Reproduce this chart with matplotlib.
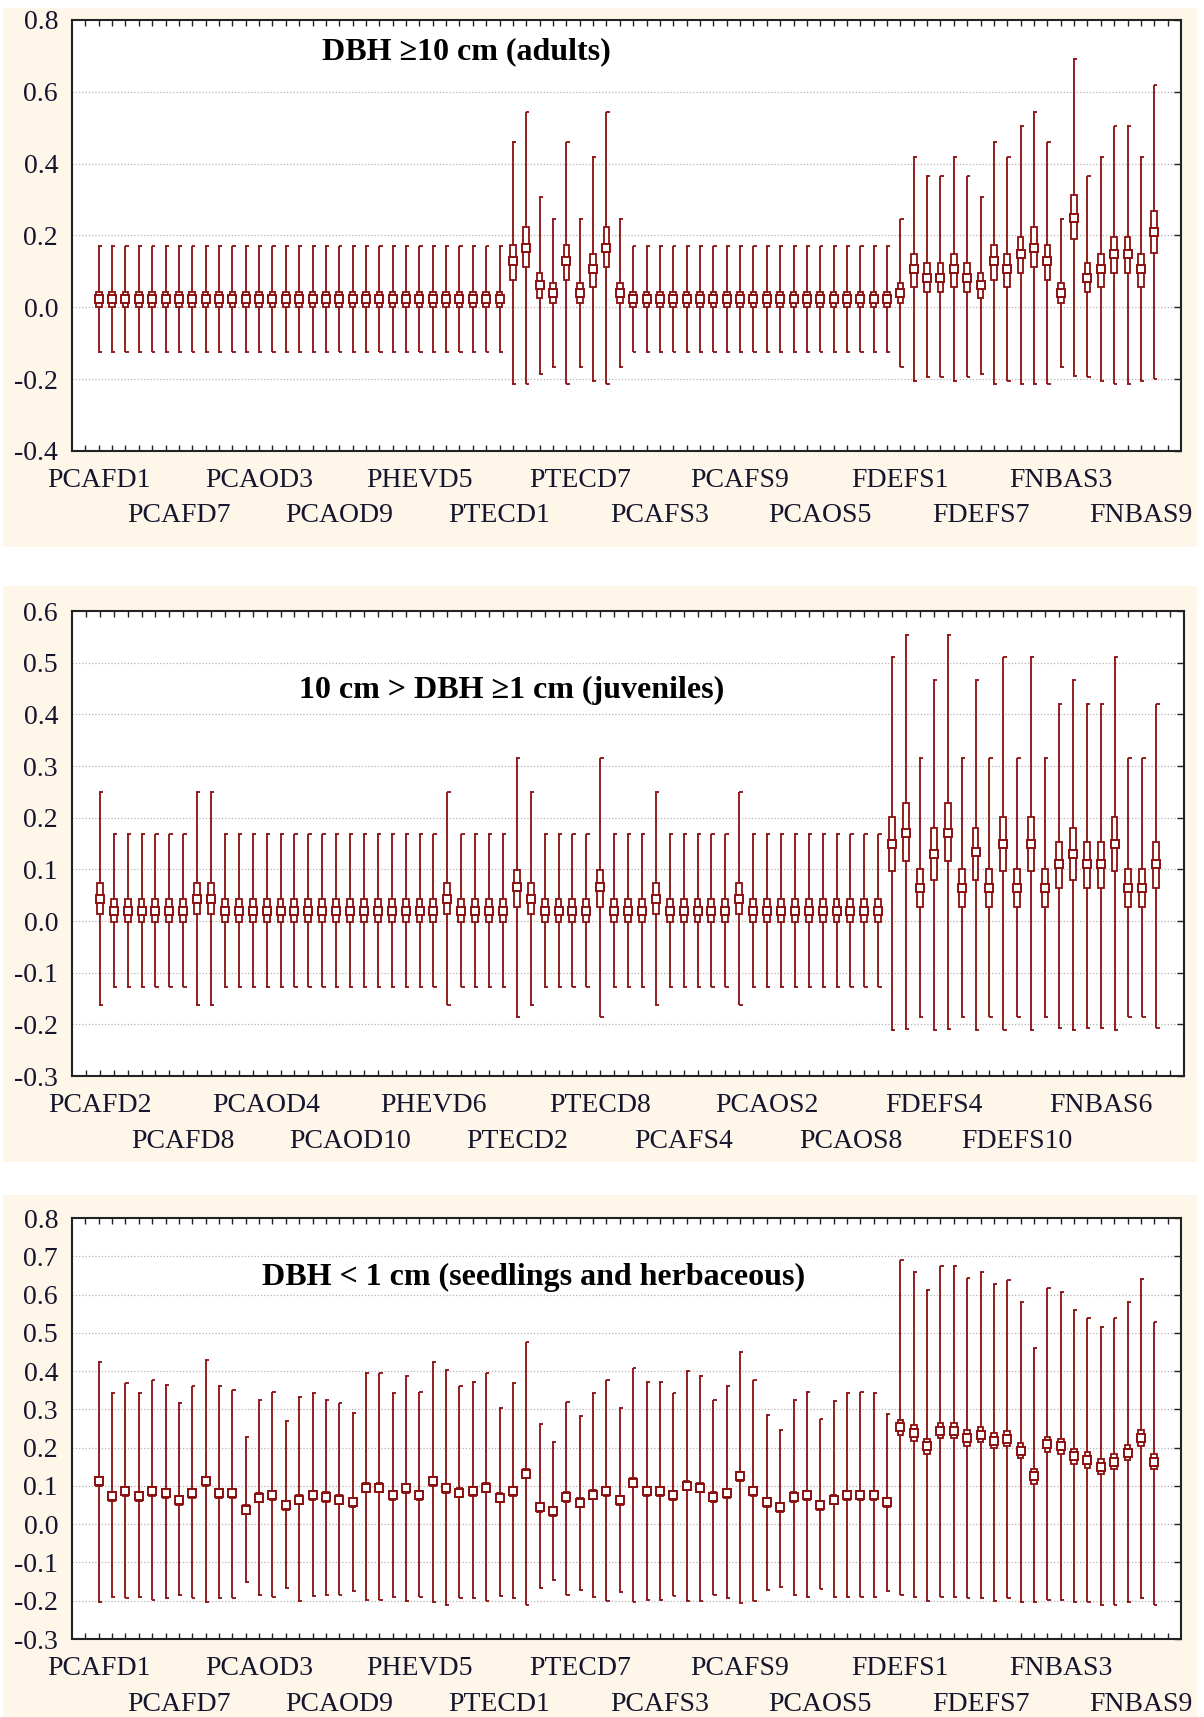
import numpy as np
import matplotlib
matplotlib.use("Agg")
import matplotlib.pyplot as plt
from matplotlib.patches import Rectangle

plt.rcParams['font.family'] = ['Liberation Serif', 'DejaVu Serif']

RED = '#8b0f0f'
TXT = '#15152e'
CREAM = '#fdf6e9'

# site names
groups = ['PCAFD', 'PCAOD', 'PHEVD', 'PTECD', 'PCAFS', 'PCAOS', 'FDEFS', 'FNBAS']
sites_all = [g + str(k) for g in groups for k in range(1, 11)]
sites_juv = [s for s in sites_all if s not in ('PCAFD1', 'PCAFS9', 'PCAFS10')]

# ---- DBH >= 10 cm (adults) ----
adult_med = ([0.022] * 31 + [0.128, 0.166, 0.062, 0.040, 0.128, 0.040, 0.106, 0.166, 0.040]
             + [0.022] * 20
             + [0.040, 0.106, 0.083, 0.083, 0.106, 0.083, 0.062, 0.128, 0.106, 0.148,
                0.166, 0.128, 0.040, 0.248, 0.083, 0.106, 0.148, 0.148, 0.106, 0.210])
adult_q1 = ([0.0] * 31 + [0.076, 0.113, 0.026, 0.012, 0.076, 0.012, 0.058, 0.113, 0.012]
            + [0.0] * 20
            + [0.012, 0.058, 0.042, 0.042, 0.058, 0.042, 0.026, 0.076, 0.058, 0.096,
               0.113, 0.076, 0.012, 0.190, 0.042, 0.058, 0.096, 0.096, 0.058, 0.151])
adult_q3 = ([0.044] * 31 + [0.173, 0.223, 0.095, 0.068, 0.173, 0.068, 0.149, 0.223, 0.068]
            + [0.044] * 20
            + [0.068, 0.149, 0.123, 0.123, 0.149, 0.123, 0.095, 0.173, 0.149, 0.195,
               0.223, 0.173, 0.068, 0.314, 0.123, 0.149, 0.195, 0.195, 0.149, 0.267])
adult_lo = ([-0.125] * 31 + [-0.214, -0.214, -0.187, -0.165, -0.214, -0.165, -0.206, -0.214, -0.165]
            + [-0.125] * 20
            + [-0.165, -0.206, -0.194, -0.194, -0.206, -0.194, -0.187, -0.214, -0.206, -0.214,
               -0.214, -0.214, -0.165, -0.191, -0.194, -0.206, -0.214, -0.214, -0.206, -0.200])
adult_hi = ([0.171] * 31 + [0.460, 0.543, 0.307, 0.247, 0.460, 0.247, 0.419, 0.543, 0.247]
            + [0.171] * 20
            + [0.247, 0.419, 0.367, 0.367, 0.419, 0.367, 0.307, 0.460, 0.419, 0.505,
               0.543, 0.460, 0.247, 0.691, 0.367, 0.419, 0.505, 0.505, 0.419, 0.620])

# ---- 10 cm > DBH >= 1 cm (juveniles) ----
juv_med = ([0.043] + [0.019] * 6 + [0.043] * 2 + [0.019] * 16 + [0.043] + [0.019] * 4
           + [0.066, 0.043] + [0.019] * 4 + [0.066] + [0.019] * 3 + [0.043] + [0.019] * 5
           + [0.043] + [0.019] * 10
           + [0.149, 0.171, 0.064, 0.129, 0.171, 0.064, 0.133, 0.064, 0.149, 0.064,
              0.149, 0.064, 0.110, 0.129, 0.110, 0.110, 0.149, 0.064, 0.064, 0.110])
juv_q1 = ([0.014] + [-0.002] * 6 + [0.014] * 2 + [-0.002] * 16 + [0.014] + [-0.002] * 4
          + [0.028, 0.014] + [-0.002] * 4 + [0.028] + [-0.002] * 3 + [0.014] + [-0.002] * 5
          + [0.014] + [-0.002] * 10
          + [0.097, 0.117, 0.028, 0.079, 0.117, 0.028, 0.079, 0.028, 0.097, 0.028,
             0.097, 0.028, 0.063, 0.079, 0.063, 0.063, 0.097, 0.028, 0.028, 0.063])
juv_q3 = ([0.074] + [0.043] * 6 + [0.074] * 2 + [0.043] * 16 + [0.074] + [0.043] * 4
          + [0.099, 0.074] + [0.043] * 4 + [0.099] + [0.043] * 3 + [0.074] + [0.043] * 5
          + [0.074] + [0.043] * 10
          + [0.202, 0.229, 0.100, 0.180, 0.229, 0.100, 0.180, 0.100, 0.202, 0.100,
             0.202, 0.100, 0.153, 0.180, 0.153, 0.153, 0.202, 0.100, 0.100, 0.153])
juv_lo = ([-0.162] + [-0.128] * 6 + [-0.162] * 2 + [-0.128] * 16 + [-0.162] + [-0.128] * 4
          + [-0.186, -0.162] + [-0.128] * 4 + [-0.186] + [-0.128] * 3 + [-0.162] + [-0.128] * 5
          + [-0.162] + [-0.128] * 10
          + [-0.211, -0.209, -0.186, -0.211, -0.209, -0.186, -0.211, -0.186, -0.211, -0.186,
             -0.211, -0.186, -0.208, -0.211, -0.208, -0.208, -0.211, -0.186, -0.186, -0.208])
juv_hi = ([0.249] + [0.169] * 6 + [0.249] * 2 + [0.169] * 16 + [0.249] + [0.169] * 4
          + [0.315, 0.249] + [0.169] * 4 + [0.315] + [0.169] * 3 + [0.249] + [0.169] * 5
          + [0.249] + [0.169] * 10
          + [0.511, 0.553, 0.315, 0.466, 0.553, 0.315, 0.466, 0.315, 0.511, 0.315,
             0.511, 0.315, 0.420, 0.466, 0.420, 0.420, 0.511, 0.315, 0.315, 0.420])

# ---- DBH < 1 cm (seedlings and herbaceous) ----
seed_med = [0.112, 0.073, 0.086, 0.073, 0.086, 0.081, 0.062, 0.081, 0.112, 0.081,
            0.081, 0.038, 0.069, 0.075, 0.049, 0.064, 0.075, 0.071, 0.064, 0.057,
            0.095, 0.095, 0.075, 0.094, 0.075, 0.112, 0.094, 0.082, 0.086, 0.095,
            0.069, 0.086, 0.132, 0.044, 0.034, 0.071, 0.056, 0.077, 0.086, 0.062,
            0.108, 0.086, 0.086, 0.075, 0.101, 0.095, 0.071, 0.081, 0.125, 0.086,
            0.057, 0.044, 0.071, 0.075, 0.049, 0.064, 0.075, 0.075, 0.075, 0.057,
            0.253, 0.238, 0.203, 0.244, 0.244, 0.225, 0.234, 0.218, 0.223, 0.192,
            0.125, 0.209, 0.203, 0.177, 0.168, 0.150, 0.163, 0.187, 0.225, 0.163]
seed_q1 = [0.100, 0.061, 0.074, 0.061, 0.074, 0.069, 0.050, 0.069, 0.100, 0.069,
           0.069, 0.026, 0.057, 0.063, 0.037, 0.052, 0.063, 0.059, 0.052, 0.045,
           0.083, 0.083, 0.063, 0.082, 0.063, 0.100, 0.082, 0.070, 0.074, 0.083,
           0.057, 0.074, 0.120, 0.032, 0.022, 0.059, 0.044, 0.065, 0.074, 0.050,
           0.096, 0.074, 0.074, 0.063, 0.089, 0.083, 0.059, 0.069, 0.113, 0.074,
           0.045, 0.032, 0.059, 0.063, 0.037, 0.052, 0.063, 0.063, 0.063, 0.045,
           0.233, 0.218, 0.183, 0.224, 0.224, 0.205, 0.214, 0.198, 0.203, 0.172,
           0.105, 0.189, 0.183, 0.157, 0.148, 0.130, 0.143, 0.167, 0.205, 0.143]
seed_q3 = [0.124, 0.085, 0.098, 0.085, 0.098, 0.093, 0.074, 0.093, 0.124, 0.093,
           0.093, 0.050, 0.081, 0.087, 0.061, 0.076, 0.087, 0.083, 0.076, 0.069,
           0.107, 0.107, 0.087, 0.106, 0.087, 0.124, 0.106, 0.094, 0.098, 0.107,
           0.081, 0.098, 0.144, 0.056, 0.046, 0.083, 0.068, 0.089, 0.098, 0.074,
           0.120, 0.098, 0.098, 0.087, 0.113, 0.107, 0.083, 0.093, 0.137, 0.098,
           0.069, 0.056, 0.083, 0.087, 0.061, 0.076, 0.087, 0.087, 0.087, 0.069,
           0.273, 0.258, 0.223, 0.264, 0.264, 0.245, 0.254, 0.238, 0.243, 0.212,
           0.145, 0.229, 0.223, 0.197, 0.188, 0.170, 0.183, 0.207, 0.245, 0.183]
seed_lo = [-0.203, -0.190, -0.194, -0.190, -0.199, -0.194, -0.184, -0.194, -0.203, -0.194,
           -0.194, -0.152, -0.185, -0.190, -0.168, -0.200, -0.187, -0.185, -0.184, -0.175,
           -0.199, -0.199, -0.190, -0.200, -0.190, -0.203, -0.210, -0.194, -0.194, -0.200,
           -0.188, -0.194, -0.212, -0.168, -0.147, -0.184, -0.172, -0.190, -0.200, -0.177,
           -0.203, -0.197, -0.197, -0.188, -0.200, -0.200, -0.184, -0.194, -0.206, -0.200,
           -0.172, -0.163, -0.185, -0.190, -0.170, -0.190, -0.190, -0.190, -0.190, -0.174,
           -0.185, -0.190, -0.200, -0.190, -0.190, -0.194, -0.194, -0.200, -0.194, -0.203,
           -0.203, -0.199, -0.199, -0.203, -0.203, -0.210, -0.210, -0.203, -0.194, -0.212]
seed_hi = [0.424, 0.342, 0.368, 0.342, 0.378, 0.364, 0.316, 0.362, 0.430, 0.362,
           0.351, 0.227, 0.325, 0.346, 0.269, 0.331, 0.342, 0.325, 0.316, 0.290,
           0.395, 0.395, 0.342, 0.388, 0.346, 0.424, 0.403, 0.362, 0.372, 0.395,
           0.304, 0.368, 0.477, 0.263, 0.216, 0.319, 0.282, 0.342, 0.378, 0.303,
           0.408, 0.372, 0.372, 0.342, 0.399, 0.388, 0.325, 0.362, 0.450, 0.378,
           0.284, 0.247, 0.325, 0.346, 0.274, 0.322, 0.342, 0.346, 0.342, 0.289,
           0.691, 0.660, 0.613, 0.675, 0.675, 0.644, 0.660, 0.627, 0.638, 0.581,
           0.461, 0.616, 0.607, 0.560, 0.540, 0.515, 0.540, 0.581, 0.640, 0.528]

W, H = 1204, 1717
fig = plt.figure(figsize=(W / 100, H / 100), dpi=100, facecolor='white')

# cream panel backgrounds (pixel rows)
for y0, y1 in [(8, 547), (586, 1162), (1195, 1717)]:
    fig.patches.append(Rectangle((3 / W, 1 - y1 / H), 1194 / W, (y1 - y0) / H,
                                 transform=fig.transFigure, fc=CREAM, ec='none', zorder=-10))


def panel(box_px, names, med, q1, q3, lo, hi, yticks, title, title_px):
    left, right, top, bottom = box_px
    ax = fig.add_axes([left / W, 1 - bottom / H, (right - left) / W, (bottom - top) / H])
    n = len(names)
    x = np.arange(n)

    ax.vlines(x, lo, hi, color=RED, lw=1.3, zorder=3)
    ax.hlines(lo, x - 0.05, x + 0.24, color=RED, lw=1.3, zorder=3)
    ax.hlines(hi, x - 0.05, x + 0.24, color=RED, lw=1.3, zorder=3)
    for xi, a, b in zip(x, q1, q3):
        ax.add_patch(Rectangle((xi - 0.21, a), 0.42, b - a, fc='white', ec=RED,
                               lw=1.3, zorder=4))
    ax.plot(x, med, ls='none', marker='s', ms=6.2, mfc='white', mec=RED, mew=1.4, zorder=5)

    ax.set_xlim(-2, n + 1)
    ax.set_ylim(yticks[0], yticks[-1])
    ax.set_yticks(yticks)
    ax.set_yticklabels(['%.1f' % v for v in yticks], fontsize=20, color=TXT)
    for v in yticks[1:-1]:
        ax.axhline(v, color='#b4b4b4', lw=0.9, ls=(0, (1, 1.6)), zorder=1)

    ax.set_xticks(np.arange(-1, n + 1))
    ax.tick_params(axis='x', direction='in', length=4, width=1.0, top=True, bottom=True,
                   labelbottom=False, color='#222222')
    ax.tick_params(axis='y', direction='in', length=5, width=1.0, left=False, right=True,
                   pad=10, color='#222222')
    for sp in ax.spines.values():
        sp.set_color('#222222')
        sp.set_linewidth(1.5)

    for i in range(0, n, 6):
        row = (i // 6) % 2
        ax.annotate(names[i], xy=(i, 0), xycoords=('data', 'axes fraction'),
                    xytext=(0, -21.5 - row * 25.3), textcoords='offset points',
                    ha='center', va='center', fontsize=20, color=TXT)

    fig.text(title_px[0] / W, 1 - title_px[1] / H, title, ha='center', va='center',
             fontsize=23, fontweight='bold', color='black')
    return ax


panel((72, 1181, 20, 451), sites_all, adult_med, adult_q1, adult_q3, adult_lo, adult_hi,
      np.round(np.arange(-0.4, 0.81, 0.2), 1), 'DBH \u226510 cm (adults)', (466, 52))
panel((72, 1184, 611, 1076), sites_juv, juv_med, juv_q1, juv_q3, juv_lo, juv_hi,
      np.round(np.arange(-0.3, 0.61, 0.1), 1), '10 cm > DBH \u22651 cm (juveniles)', (512, 690))
panel((72, 1181, 1218, 1639), sites_all, seed_med, seed_q1, seed_q3, seed_lo, seed_hi,
      np.round(np.arange(-0.3, 0.81, 0.1), 1), 'DBH < 1 cm (seedlings and herbaceous)', (534, 1277))

fig.savefig('out.png', dpi=100, facecolor='white')
